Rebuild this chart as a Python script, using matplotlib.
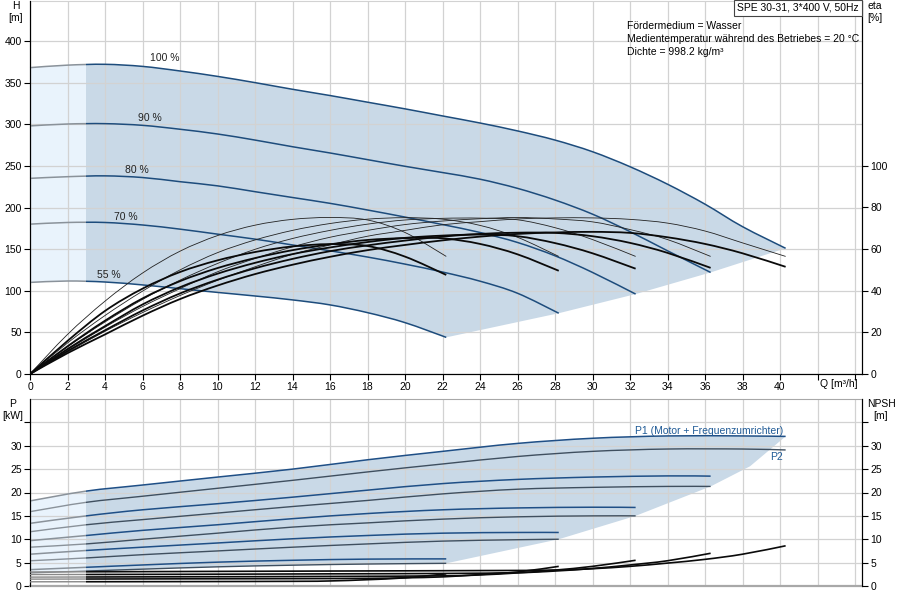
import matplotlib
matplotlib.use("Agg")
import numpy as np
import matplotlib.pyplot as plt
from matplotlib.patches import Rectangle, PathPatch
from matplotlib.path import Path

plt.rcParams['font.family'] = ['Liberation Sans', 'DejaVu Sans']
plt.rcParams['font.size'] = 7.5

# ---- head curves H [m] per speed ----
q_h100 = [0, 2, 4, 6, 8, 10, 12, 14, 16, 18, 20, 22, 24, 26, 28, 30, 32, 34, 36, 38, 40.3]
h100 = [368, 371, 372, 369.5, 364, 357.5, 350, 342, 334.5, 326.5, 318.5, 310, 301.5, 292, 281, 267, 249, 228, 204, 177, 151]
q_h90 = [0, 2, 4, 6, 8, 10, 12, 14, 16, 18, 20, 22, 24, 26, 28, 30, 32, 34, 36.3]
h90 = [298, 300.3, 300.7, 298.7, 294, 288.3, 281, 273, 265.5, 257.5, 249.5, 242, 234, 223, 209, 192, 171, 148, 122]
q_h80 = [0, 2, 4, 6, 8, 10, 12, 14, 16, 18, 20, 22, 24, 26, 28, 30, 32.3]
h80 = [235, 237, 238, 236, 231, 226, 219, 212, 205, 197, 188.5, 179.5, 170, 158, 142, 122, 96]
q_h70 = [0, 2, 4, 6, 8, 10, 12, 14, 16, 18, 20, 22, 24, 26, 28.2]
h70 = [180, 182, 182, 179, 174, 168, 162, 155, 148, 140.5, 132, 122.5, 111.5, 97, 73]
q_h55 = [0, 2, 4, 6, 8, 10, 12, 14, 16, 18, 20, 22.2]
h55 = [110, 111.7, 110.5, 107, 102.5, 98, 93.7, 89, 83, 73.7, 61.7, 44]

speed_labels = ['100 %', '90 %', '80 %', '70 %', '55 %']
label_q = [7.2, 6.4, 5.7, 5.1, 4.2]
label_h = [380, 307, 245, 189, 119]

# ---- efficiency curves eta [%] (thin = pump, thick = total) ----
q_e55 = [0, 2, 4, 6, 8, 10, 12, 14, 16, 18, 20, 22.2]
q_e70 = [0, 2, 4, 6, 8, 10, 12, 14, 16, 18, 20, 22, 24, 26, 28.2]
q_e80 = [0, 2, 4, 6, 8, 10, 12, 14, 16, 18, 20, 22, 24, 26, 28, 30, 32.3]
q_e90 = [0, 2, 4, 6, 8, 10, 12, 14, 16, 18, 20, 22, 24, 26, 28, 30, 32, 34, 36.3]
q_e100 = [0, 2, 4, 6, 8, 10, 12, 14, 16, 18, 20, 22, 24, 26, 28, 30, 32, 34, 36, 38, 40.3]

eta_pump55 = [0, 19, 35, 48.5, 59, 66.5, 71.5, 74.3, 75.2, 74, 68, 56.5]
eta_pump70 = [0, 14.9, 28.1, 39.8, 50, 58.3, 64.4, 69, 72.3, 74.4, 75.1, 74.4, 71.4, 65.7, 56.5]
eta_pump80 = [0, 13.1, 25, 35.8, 45.1, 53.1, 59.9, 65.1, 69, 72, 74, 74.8, 74.9, 74.1, 70.3, 64.6, 56.5]
eta_pump90 = [0, 11.6, 22.5, 32.4, 41, 49.1, 55.5, 61.1, 65.7, 69, 71.8, 73.5, 74.6, 75.2, 74.5, 73.1, 69.4, 64.6, 56.5]
eta_pump100 = [0, 10.5, 20.5, 29.5, 37.7, 45, 51.5, 57.5, 62, 66.2, 69, 71.7, 73.2, 74.5, 75, 75, 74.3, 72.5, 68.7, 63, 56.5]

eta_tot55 = [0, 15.9, 30.3, 41, 49, 54.6, 58.6, 61.3, 62.4, 61.5, 56.4, 47.6]
eta_tot70 = [0, 13.3, 25.6, 36.3, 44.6, 50.9, 55.7, 59.5, 62.3, 64.4, 65.3, 65.2, 62.5, 57.5, 49.6]
eta_tot80 = [0, 12, 23, 33.4, 41.7, 48.2, 53.4, 57.6, 60.8, 63.4, 65.4, 66.5, 67, 66.2, 62.9, 58, 50.6]
eta_tot90 = [0, 11, 21, 30.5, 38.7, 45.3, 50.8, 55.3, 59, 61.8, 64.1, 66, 67.3, 67.9, 67.8, 66.2, 63, 58.2, 51]
eta_tot100 = [0, 10, 19, 28, 36, 42.5, 48, 52.5, 56.3, 59.5, 62, 64.2, 66, 67.3, 68, 68.3, 67.8, 65.7, 62.5, 58, 51.5]

# ---- power curves P [kW] ----
q_p100 = [0, 3, 6, 10, 14, 18, 22, 26, 30, 34, 38, 40.3]
p1_100 = [18.2, 20.3, 21.6, 23.3, 25, 27, 28.8, 30.5, 31.6, 32.1, 32.1, 32]
p2_100 = [15.9, 17.9, 19.2, 20.9, 22.6, 24.4, 26.1, 27.7, 28.8, 29.3, 29.3, 29.1]
q_p90 = [0, 3, 6, 10, 14, 18, 22, 26, 30, 34, 36.3]
p1_90 = [13.4, 15.0, 16.3, 17.6, 19.0, 20.5, 21.9, 22.8, 23.3, 23.55, 23.5]
p2_90 = [11.6, 13.1, 14.2, 15.6, 17.0, 18.3, 19.7, 20.7, 21.1, 21.3, 21.3]
q_p80 = [0, 3, 6, 10, 14, 18, 22, 26, 30, 32.3]
p1_80 = [9.7, 10.8, 11.9, 13.1, 14.4, 15.5, 16.3, 16.7, 16.85, 16.8]
p2_80 = [8.3, 9.0, 10.0, 11.3, 12.6, 13.5, 14.3, 14.8, 15.0, 15.0]
q_p70 = [0, 3, 6, 10, 14, 18, 22, 26, 28.2]
p1_70 = [6.8, 7.6, 8.3, 9.2, 10.1, 10.8, 11.3, 11.45, 11.45]
p2_70 = [5.4, 6.0, 6.7, 7.5, 8.3, 9.0, 9.6, 9.9, 10.0]
q_p55 = [0, 3, 6, 10, 14, 18, 22.2]
p1_55 = [3.5, 4.0, 4.5, 5.1, 5.5, 5.75, 5.8]
p2_55 = [2.8, 3.2, 3.6, 4.1, 4.45, 4.7, 4.85]
q_p_edge = [28.2, 32.3, 36.3, 38.4]
p_edge = [10.0, 15.0, 21.3, 25.6]

# ---- NPSH curves [m] ----
q_n100 = [0, 8, 16, 24, 28, 30, 32, 34, 36, 38, 40.3]
npsh100 = [3.0, 3.1, 3.2, 3.3, 3.4, 3.7, 4.2, 4.9, 5.7, 6.8, 8.6]
q_n90 = [0, 8, 16, 22, 26, 28, 30, 32, 34, 36.3]
npsh90 = [2.45, 2.5, 2.6, 2.68, 2.85, 3.2, 3.75, 4.5, 5.4, 7.0]
q_n80 = [0, 8, 16, 22, 24, 26, 28, 30, 32.3]
npsh80 = [1.9, 1.97, 2.05, 2.17, 2.37, 2.8, 3.4, 4.2, 5.5]
q_n70 = [0, 8, 14, 18, 20, 22, 24, 26, 28.2]
npsh70 = [1.47, 1.53, 1.57, 1.63, 1.75, 1.95, 2.45, 3.0, 4.2]
q_n55 = [0, 8, 14, 16, 18, 20, 22.2]
npsh55 = [0.9, 0.94, 1.0, 1.08, 1.35, 1.75, 2.6]

q_split = 3.0
blue = '#1d4c7c'
grey_line = '#8a929a'
dark_fill = '#c9d9e7'
light_fill = '#e9f3fc'
grid_c = '#d2d2d2'


def bez(q, y):
    # smooth cubic segments through the read points
    pts = np.column_stack([q, y]).astype(float)
    verts = [pts[0]]
    for i in range(len(pts) - 1):
        p0 = pts[i - 1] if i > 0 else pts[i]
        p1, p2 = pts[i], pts[i + 1]
        p3 = pts[i + 2] if i + 2 < len(pts) else pts[i + 1]
        verts += [p1 + (p2 - p0) / 6, p2 - (p3 - p1) / 6, p2]
    return verts


def curve_path(q, y):
    v = bez(q, y)
    return Path(v, [Path.MOVETO] + [Path.CURVE4] * (len(v) - 1))


def left_clip(ax):
    return Rectangle((-100, -1000), 100 + q_split, 5000, transform=ax.transData)


def right_clip(ax):
    return Rectangle((q_split, -1000), 1000, 5000, transform=ax.transData)


def smooth_line(ax, q, y, color, lw, clip=None):
    pp = PathPatch(curve_path(q, y), fill=False, ec=color, lw=lw, zorder=3, capstyle='butt')
    ax.add_patch(pp)
    if clip is not None:
        pp.set_clip_path(clip)
    return pp


def split_line(ax, q, y, color, lw, lcolor=grey_line, lwl=None):
    smooth_line(ax, q, y, color, lw, right_clip(ax))
    smooth_line(ax, q, y, lcolor, lwl or lw, left_clip(ax))


def region_path(q_up, y_up, q_mid, y_mid, q_low, y_low):
    up = bez(q_up, y_up)
    low = bez(list(q_low)[::-1], list(y_low)[::-1])
    verts = list(up) + [np.array(p) for p in zip(q_mid, y_mid)] + list(low) + [up[0]]
    codes = ([Path.MOVETO] + [Path.CURVE4] * (len(up) - 1) + [Path.LINETO] * len(q_mid)
             + [Path.LINETO] + [Path.CURVE4] * (len(low) - 1) + [Path.CLOSEPOLY])
    return Path(verts, codes)


def split_fill(ax, path):
    d = PathPatch(path, fc=dark_fill, lw=0, zorder=0.2)
    ax.add_patch(d)
    d.set_clip_path(right_clip(ax))
    l = PathPatch(path, fc=light_fill, lw=0, zorder=0.2)
    ax.add_patch(l)
    l.set_clip_path(left_clip(ax))


fig = plt.figure(figsize=(9, 6), dpi=100)
ax1 = fig.add_axes([30 / 900, 1 - 374 / 600, 832 / 900, 373 / 600])
ax2 = fig.add_axes([30 / 900, 14 / 600, 832 / 900, 187 / 600])

qmax = 832 / 18.75
hmax = 373 / 0.8325

# ---------- top panel ----------
h_curves = [(q_h100, h100), (q_h90, h90), (q_h80, h80), (q_h70, h70), (q_h55, h55)]
mid_q = [c[0][-1] for c in h_curves[1:-1]]
mid_h = [c[1][-1] for c in h_curves[1:-1]]
split_fill(ax1, region_path(q_h100, h100, mid_q, mid_h, q_h55, h55))

for (q, h), lab, lq, lh in zip(h_curves, speed_labels, label_q, label_h):
    split_line(ax1, q, h, blue, 1.1)
    ax1.text(lq, lh, lab, ha='center', va='center', fontsize=7.5, color='#222222')

ax1.set_xlim(0, qmax)
ax1.set_ylim(0, hmax)
ax1.set_xticks(np.arange(0, 45, 2))
ax1.set_xticklabels([str(v) if v <= 40 else '' for v in range(0, 45, 2)])
ax1.set_yticks(np.arange(0, 401, 50))
ax1.grid(True, color=grid_c, lw=0.9)
ax1.set_axisbelow(True)
ax1.tick_params(direction='out', length=4, width=0.8, pad=2, labelsize=7.5)
for s in ['left', 'bottom', 'right']:
    ax1.spines[s].set_color('black')
ax1.spines['top'].set_color(grid_c)

ax1r = ax1.twinx()
ax1r.set_ylim(0, hmax * 0.4)
ax1r.set_yticks(np.arange(0, 101, 20))
ax1r.tick_params(direction='out', length=4, width=0.8, pad=2, labelsize=7.5)
ax1r.spines['top'].set_visible(False)

eta_thin = [(q_e55, eta_pump55), (q_e70, eta_pump70), (q_e80, eta_pump80),
            (q_e90, eta_pump90), (q_e100, eta_pump100)]
eta_thick = [(q_e55, eta_tot55), (q_e70, eta_tot70), (q_e80, eta_tot80),
             (q_e90, eta_tot90), (q_e100, eta_tot100)]
for q, e in eta_thin:
    smooth_line(ax1r, q, e, '#222222', 0.6)
for q, e in eta_thick:
    smooth_line(ax1r, q, e, '#0a0a0a', 1.3)

fig.text(16 / 900, 1 - 12 / 600, 'H\n[m]', ha='center', va='center', fontsize=7.5, linespacing=1.25)
fig.text(875 / 900, 1 - 12 / 600, 'eta\n[%]', ha='center', va='center', fontsize=7.5, linespacing=1.25)
fig.text(858 / 900, 1 - 384 / 600, 'Q [m³/h]', ha='right', va='center', fontsize=7.5)

fig.text(798 / 900, 1 - 8 / 600, 'SPE 30-31, 3*400 V, 50Hz', ha='center', va='center', fontsize=7.5,
         bbox=dict(boxstyle='square,pad=0.3', fc='white', ec='#444444', lw=0.8))
info = ['Fördermedium = Wasser',
        'Medientemperatur während des Betriebes = 20 °C',
        'Dichte = 998.2 kg/m³']
for i, line in enumerate(info):
    fig.text(627 / 900, 1 - (26 + 13 * i) / 600, line, ha='left', va='center', fontsize=7.5)

# ---------- bottom panel ----------
p_curves = [(q_p100, p1_100, p2_100), (q_p90, p1_90, p2_90), (q_p80, p1_80, p2_80),
            (q_p70, p1_70, p2_70), (q_p55, p1_55, p2_55)]
split_fill(ax2, region_path(q_p100, p1_100, q_p_edge[::-1], p_edge[::-1], q_p55, p2_55))

for q, p1, p2 in p_curves:
    split_line(ax2, q, p1, '#1f4f86', 1.1)
    split_line(ax2, q, p2, '#3f4f5f', 1.0)

ax2.text(40.16, 33.2, 'P1 (Motor + Frequenzumrichter)', ha='right', va='center', fontsize=7.5, color='#1f5a96')
ax2.text(40.16, 27.7, 'P2', ha='right', va='center', fontsize=7.5, color='#1f5a96')

ax2.set_xlim(0, qmax)
ax2.set_ylim(0, 40)
ax2.set_xticks(np.arange(0, 45, 2))
ax2.set_yticks(np.arange(0, 36, 5))
ax2.set_yticklabels([str(v) if v <= 30 else '' for v in range(0, 36, 5)])
ax2.grid(True, color=grid_c, lw=0.9)
ax2.set_axisbelow(True)
ax2.tick_params(axis='x', length=0, labelbottom=False)
ax2.tick_params(axis='y', direction='out', length=4, width=0.8, pad=2, labelsize=7.5)
ax2.spines['left'].set_color('black')
ax2.spines['right'].set_color('black')
ax2.spines['top'].set_color('#a8a8a8')
ax2.spines['bottom'].set_color('#a8a8a8')
ax2.spines['bottom'].set_linewidth(1.6)

ax2r = ax2.twinx()
ax2r.set_ylim(0, 40)
ax2r.set_yticks(np.arange(0, 36, 5))
ax2r.set_yticklabels([str(v) if v <= 30 else '' for v in range(0, 36, 5)])
ax2r.tick_params(direction='out', length=4, width=0.8, pad=2, labelsize=7.5)
ax2r.spines['top'].set_visible(False)
ax2r.spines['bottom'].set_visible(False)

npsh_curves = [(q_n100, npsh100), (q_n90, npsh90), (q_n80, npsh80), (q_n70, npsh70), (q_n55, npsh55)]
for q, n in npsh_curves:
    split_line(ax2r, q, n, '#0a0a0a', 1.2, lcolor='#888888', lwl=1.0)

fig.text(13 / 900, 1 - 410 / 600, 'P\n[kW]', ha='center', va='center', fontsize=7.5, linespacing=1.25)
fig.text(881 / 900, 1 - 410 / 600, 'NPSH\n[m]', ha='center', va='center', fontsize=7.5, linespacing=1.25)

fig.savefig('out.png', dpi=100)
